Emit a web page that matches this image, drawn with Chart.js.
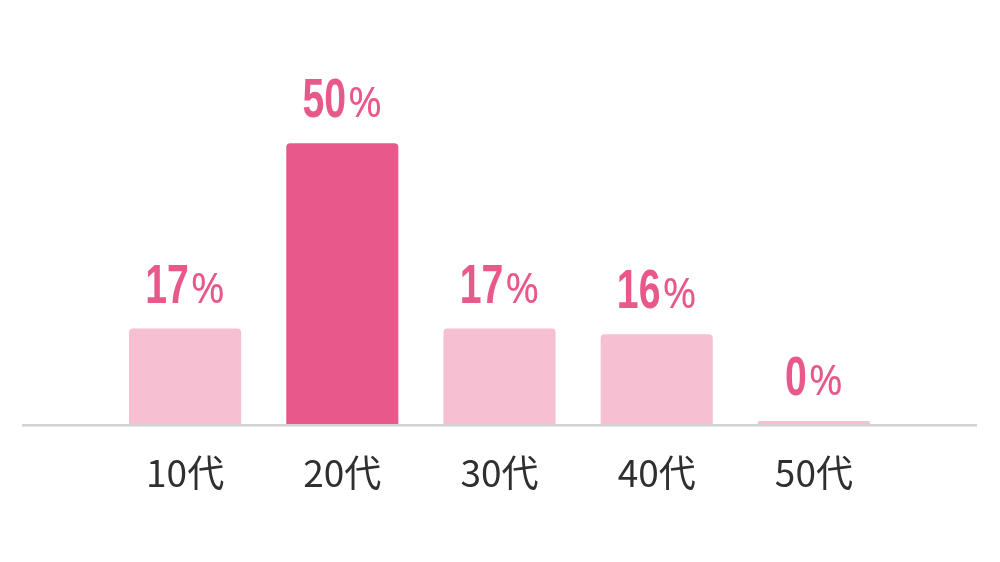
<!DOCTYPE html>
<html><head><meta charset="utf-8">
<script src="https://cdn.jsdelivr.net/npm/chart.js@4"></script>
<style>html,body{margin:0;padding:0;background:#fff}#wrap{width:1000px;height:562px}</style>
</head><body><div id="wrap"><canvas id="c" width="1000" height="562"></canvas></div>
<script>
const categories = ['10代', '20代', '30代', '40代', '50代'];
const values = [17, 50, 17, 16, 0];
const highlightIndex = 1;

const strongPink = '#E8588A';
const lightPink = '#F6BFD2';

const baseLine = {
  id: 'baseLine',
  afterDatasetsDraw(chart) {
    const ctx = chart.ctx;
    const y = chart.scales.y.getPixelForValue(0) + 1.3;
    ctx.save();
    ctx.strokeStyle = '#d2d2d2';
    ctx.lineWidth = 2.5;
    ctx.beginPath();
    ctx.moveTo(22, y);
    ctx.lineTo(977, y);
    ctx.stroke();
    ctx.restore();
  }
};

const valueLabels = {
  id: 'valueLabels',
  afterDatasetsDraw(chart) {
    const ctx = chart.ctx;
    const meta = chart.getDatasetMeta(0);
    const numFont = 'bold 56px "Liberation Sans", Arial, sans-serif';
    const pctFont = '400 41px "Noto Sans", sans-serif';
    ctx.save();
    meta.data.forEach((bar, i) => {
      const num = String(values[i]);
      const yBase = bar.y - 26;
      ctx.fillStyle = strongPink;
      ctx.textBaseline = 'alphabetic';
      ctx.font = numFont;
      const sx = 0.7;
      const numW = ctx.measureText(num).width * sx;
      ctx.font = pctFont;
      const pctW = ctx.measureText('%').width;
      const gap = 2;
      const total = numW + gap + pctW;
      const x0 = bar.x - total / 2;
      ctx.save();
      ctx.translate(x0, yBase);
      ctx.scale(sx, 1);
      ctx.font = numFont;
      ctx.textAlign = 'left';
      ctx.fillText(num, 0, 0);
      ctx.restore();
      ctx.font = pctFont;
      ctx.textAlign = 'left';
      ctx.fillText('%', x0 + numW + gap, yBase);
    });
    ctx.restore();
  }
};

new Chart(document.getElementById('c'), {
  type: 'bar',
  data: {
    labels: categories,
    datasets: [{
      data: values,
      backgroundColor: values.map((v, i) => i === highlightIndex ? strongPink : lightPink),
      borderRadius: { topLeft: 4, topRight: 4, bottomLeft: 0, bottomRight: 0 },
      borderSkipped: 'start',
      minBarLength: 3,
      categoryPercentage: 1,
      barPercentage: 0.713
    }]
  },
  options: {
    responsive: false,
    animation: false,
    devicePixelRatio: 1,
    layout: { padding: { left: 106.5, right: 107.5, top: 87, bottom: 0 } },
    plugins: { legend: { display: false }, tooltip: { enabled: false } },
    scales: {
      x: {
        grid: { display: false, drawTicks: false },
        border: { display: false },
        ticks: {
          color: '#2f2f2f',
          font: { family: '"Noto Sans CJK JP", sans-serif', size: 37, weight: '400' },
          padding: 27
        },
        afterFit(scale) { scale.height = 138; }
      },
      y: {
        display: false,
        min: 0,
        max: 60
      }
    }
  },
  plugins: [baseLine, valueLabels]
});
</script>
</body></html>
